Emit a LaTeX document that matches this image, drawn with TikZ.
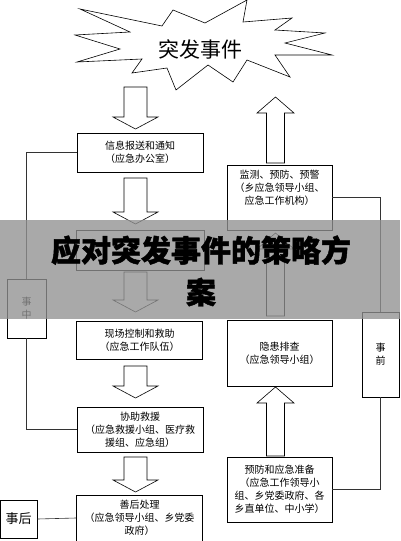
\documentclass[tikz,border=0pt]{standalone}
\usepackage{fontspec}
\setmainfont{Noto Sans CJK SC}
\usetikzlibrary{positioning,calc}
\definecolor{BannerGray}{HTML}{929292}
\definecolor{LineGray}{HTML}{333333}
\tikzset{
    % Base box
    basenode/.style={
        draw=black,
        fill=white,
        line width=0.7pt,
        inner sep=0pt,
        align=center,
        font=\fontsize{10}{13}\selectfont
    },
    % Response chain (left column)
    flownode/.style={
        basenode,
        minimum width=126pt,
        minimum height=39pt
    },
    % Prevention chain (right column)
    prenode/.style={
        basenode,
        minimum width=105pt,
        minimum height=65pt
    },
    % Phase tags
    sidenode/.style={
        basenode,
        minimum width=38pt
    },
    % Hollow block arrows
    blockarrow/.style={
        draw=black,
        fill=white,
        line width=0.6pt,
        line join=miter
    },
    % Plain connectors
    myline/.style={
        draw=LineGray,
        line width=0.6pt
    }
}
% hollow arrow: x, tail y, tip y (down: wide left column, up: narrow right column)
\newcommand{\downblock}[3]{%
    \draw[blockarrow] (#1-11.5,#2) -- (#1+11.5,#2) -- (#1+11.5,#3-12) -- (#1+22.5,#3-12)
        -- (#1,#3) -- (#1-22.5,#3-12) -- (#1-11.5,#3-12) -- cycle;}
\newcommand{\upblock}[3]{%
    \draw[blockarrow] (#1-9,#2) -- (#1+9,#2) -- (#1+9,#3+16) -- (#1+18.5,#3+16)
        -- (#1,#3) -- (#1-18.5,#3+16) -- (#1-9,#3+16) -- cycle;}

\begin{document}
\begin{tikzpicture}[x=1pt, y=-1pt]
        \useasboundingbox[fill=white] (0,0) rectangle (400,541);

        % Event burst
        \draw[line width=0.6pt, fill=white] (80,9) -- (130,32) -- (75,35) -- (120,49) -- (77,62)
            -- (142,59) -- (132,73) -- (167,68) -- (176,90) -- (208,65) -- (233,82)
            -- (247,60) -- (290,77) -- (275,55) -- (332,55) -- (285,43) -- (325,33)
            -- (275,30) -- (292,18) -- (243,22) -- (247,0) -- (205,23) -- (173,10)
            -- (162,26) -- cycle;
        \node[font=\fontsize{21}{24}\selectfont] (event) at (200,49) {突发事件};

        % Response chain
        \node[flownode] (report) at (140,152.5) {信息报送和通知\\（应急办公室）};
        \node[flownode, minimum width=128pt, minimum height=40pt] (plan) at (140,250) {};
        \node[flownode, minimum height=38pt] (rescue) at (139.5,340) {现场控制和救助\\（应急工作队伍）};
        \node[flownode, minimum height=45pt] (assist) at (140,429.5) {协助救援\\（应急救援小组、医疗救\\援组、应急组）};
        \node[flownode, minimum height=46pt] (after) at (139.5,518) {善后处理\\（应急领导小组、乡党委\\政府）};

        \downblock{135.5}{87}{129}
        \downblock{135.5}{178}{224}
        \downblock{135.5}{272}{312}
        \downblock{135.5}{366}{398}
        \downblock{135.5}{457}{492}

        % Prevention chain
        \node[prenode] (monitor) at (279.5,197.5) {};
        \node[font=\fontsize{10}{13}\selectfont, align=center] (monitortext) at (279.5,188) {监测、预防、预警\\（乡应急领导小组、\\应急工作机构）};
        \node[prenode, minimum height=66pt] (check) at (279.5,353) {隐患排查\\（应急领导小组）};
        \node[prenode] (prepare) at (279.5,489.5) {预防和应急准备\\（应急工作领导小\\组、乡党委政府、各\\乡直单位、中小学）};

        \upblock{275.5}{163}{97}
        \upblock{275.5}{316}{233}
        \upblock{275.5}{456}{387}

        % Phase tags
        \node[sidenode, minimum width=39pt, minimum height=59pt] (during) at (26.5,308.5) {事\\中};
        \node[sidenode, minimum width=37pt, minimum height=85pt] (before) at (380.5,354.5) {事\\前};
        \node[sidenode, minimum width=37pt, minimum height=38pt, font=\fontsize{13}{15}\selectfont] (post) at (18.5,519) {事后};

        \draw[myline] (report.west) -| (during.north);
        \draw[myline] (during.south) |- (assist.west);
        \draw[myline] (monitor.east) -| (before.north);
        \draw[myline] (before.south) |- (prepare.east);
        \draw[myline] (post.east) -- (after.west);

        % Title banner
        \fill[BannerGray, opacity=0.78] (0,220) rectangle (400,319);
        \node[font=\fontsize{30}{42}\selectfont\bfseries\addfontfeatures{FakeBold=1.5}, align=center] (title) at (201,271) {应对突发事件的策略方\\案};
    \end{tikzpicture}
\end{document}
